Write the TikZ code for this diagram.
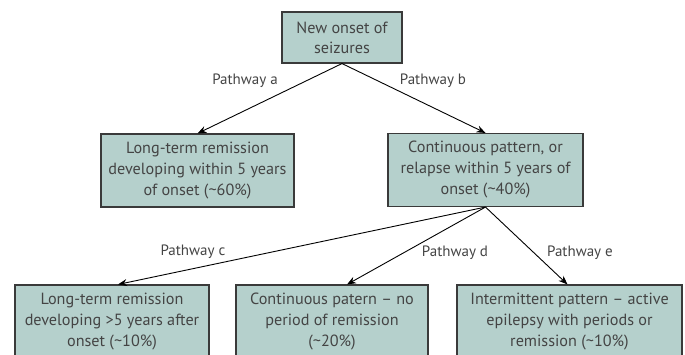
\documentclass[tikz,border=0pt]{standalone}
\usepackage{fontspec}
\setmainfont{PT Sans}
\usetikzlibrary{arrows.meta,calc}
\definecolor{boxfill}{HTML}{B5D0CC}
\definecolor{boxline}{HTML}{3A3A3A}
\definecolor{txt}{HTML}{444444}
\tikzset{
  stagebox/.style={draw=boxline, fill=boxfill, line width=1.1pt, align=center,
    inner sep=0pt, minimum height=73pt, text=txt,
    font=\fontsize{16.2}{21}\selectfont},
  pathlabel/.style={text=txt, inner sep=0pt, font=\fontsize{15}{17}\selectfont},
  flow/.style={line width=0.9pt, -{Stealth[length=9pt,width=7pt]}}
}
\begin{document}
\begin{tikzpicture}[x=1pt,y=-1pt]
  \useasboundingbox (0,0) rectangle (685,354);
  \clip (0,0) rectangle (685,354);

  % stages of the course of epilepsy
  \node[stagebox, minimum width=120pt, minimum height=51pt, font=\fontsize{16.2}{20}\selectfont]
    (onset) at (342,37.5) {New onset of\\seizures};
  \node[stagebox, minimum width=193pt] (early) at (197.5,170.5)
    {Long-term remission\\developing within 5 years\\of onset (\textasciitilde60\%)};
  \node[stagebox, minimum width=195pt] (cont) at (485.5,170)
    {Continuous pattern, or\\relapse within 5 years of\\onset (\textasciitilde40\%)};
  \node[stagebox, minimum width=194pt] (late) at (112,321.5)
    {Long-term remission\\developing >5 years after\\onset (\textasciitilde10\%)};
  \node[stagebox, minimum width=192pt] (never) at (332,321.5)
    {Continuous patern -- no\\period of remission\\(\textasciitilde20\%)};
  \node[stagebox, minimum width=225pt] (inter) at (569.5,321.5)
    {Intermittent pattern -- active\\epilepsy with periods or\\remission (\textasciitilde10\%)};

  % pathways
  \draw[flow] (onset.south) -- (early.north);
  \draw[flow] (onset.south) -- (cont.north);
  \draw[flow] (cont.south) -- ($(late.north)+(6,0)$);
  \draw[flow] (cont.south) -- ($(never.north)+(15,0)$);
  \draw[flow] (cont.south) -- ($(inter.north)+(-2,0)$);

  \node[pathlabel] (la) at (245,81) {Pathway a};
  \node[pathlabel] (lb) at (433,81) {Pathway b};
  \node[pathlabel] (lc) at (193,252) {Pathway c};
  \node[pathlabel] (ld) at (455,253) {Pathway d};
  \node[pathlabel] (le) at (580,253) {Pathway e};
\end{tikzpicture}
\end{document}
